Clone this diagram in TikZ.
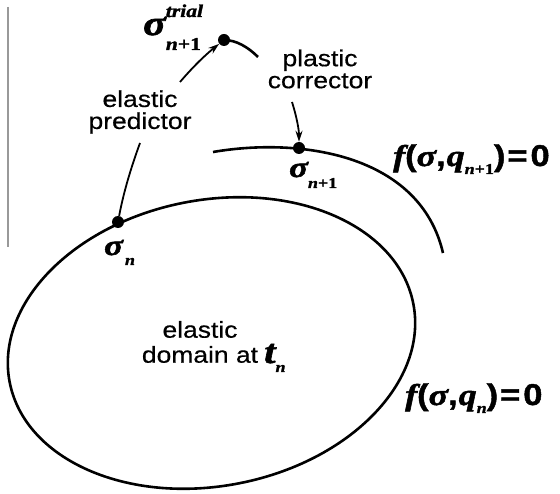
\documentclass[tikz,border=0pt]{standalone}
\usepackage{fontspec}
\setmainfont{Liberation Sans}[FakeStretch=1.15, FakeBold=0.5, BoldFeatures={FakeBold=1.5}]
\newfontfamily\symf{Liberation Serif}[FakeStretch=1.2, BoldFeatures={FakeBold=1.5}, BoldItalicFeatures={FakeBold=1.8}]
\usetikzlibrary{arrows.meta}
\newcommand{\bi}[1]{{\symf\bfseries\itshape #1}}
\newcommand{\bsf}[1]{{\bfseries #1}}
\newcommand{\fs}[1]{\fontsize{#1}{#1}\selectfont}
\begin{document}
\begin{tikzpicture}[x=1pt,y=-1pt,
  curve/.style={line width=2.6pt, black},
  dot/.style={circle, fill=black, inner sep=0pt, minimum size=12pt},
  arr/.style={line width=1.8pt, black, -{Stealth[length=11pt,width=7pt]}},
  lbl/.style={align=center, inner sep=0pt},
  sym/.style={inner sep=0pt, anchor=base west}]
\useasboundingbox (0,0) rectangle (560,494);
% gray margin line
\draw[line width=2.2pt, gray!80] (8,7) -- (8,247);
% elastic domain at t_n
\draw[curve, rotate around={11:(211.5,343)}] (211.5,343) ellipse [x radius=205.6, y radius=143];
% yield surface at n+1
\draw[curve] (213,152) .. controls (300,137) and (420,154) .. (443,253);
% points
\node[dot] (sn) at (118,222) {};
\node[dot] (snp1) at (299,148) {};
\node[dot] (trial) at (224,40) {};
\coordinate (te) at (258,57);
\draw[curve] (trial.center) .. controls (236,40) and (248,47) .. (te);
% labels
\node[lbl, font={\fontsize{23}{22}\selectfont}] (pred) at (140,112) {elastic\\predictor};
\node[lbl, font={\fontsize{23}{22}\selectfont}] (corr) at (320,69) {plastic\\corrector};
\node[lbl, font={\fontsize{23}{25}\selectfont}] (dom) at (200,342) {elastic\\domain at};
\node[sym] (tn) at (264,363) {\fs{34}\bi{t}\raisebox{-9pt}{\fs{15}\bi{n}}};
\node[sym] (lsn) at (104,255) {\fs{29}\bi{σ}\hspace{2pt}\raisebox{-10pt}{\fs{15}\bi{n}}};
\node[sym] (lsnp1) at (289,177) {\fs{29}\bi{σ}\raisebox{-11pt}{\fs{15}\bi{n}{\symf\bfseries+1}}};
\node[sym] (ltrial) at (143,35) {\fs{35}\bi{σ}\raisebox{18pt}{\rlap{\fs{18}\bi{trial}}}\raisebox{-15pt}{\fs{18}\bi{n}{\symf\bfseries+1}}};
\node[sym] (f1) at (393,166) {\fs{30}\bi{f}\bsf{(}\bi{σ}\bsf{,}\hspace{1pt}\bi{q}\raisebox{-8pt}{\fs{15}\bi{n}{\symf\bfseries+1}}\bsf{)}\hspace{2pt}\bsf{=}\hspace{3pt}\bsf{0}};
\node[sym] (f0) at (405,405) {\fs{30}\bi{f}\bsf{(}\bi{σ}\bsf{,}\hspace{1pt}\bi{q}\raisebox{-8pt}{\fs{15}\bi{n}}\bsf{)}\hspace{2pt}\bsf{=}\hspace{3pt}\bsf{0}};
% connectors
\coordinate (p1) at (140,143);
\coordinate (p2) at (180,82);
\coordinate (p3) at (292,102);
\draw[curve, line width=1.8pt] (sn) .. controls (124,190) and (132,165) .. (p1);
\draw[arr] (p2) .. controls (192,68) and (204,56) .. (trial);
\draw[arr] (p3) .. controls (297,118) and (299,130) .. (snp1);
\end{tikzpicture}
\end{document}
